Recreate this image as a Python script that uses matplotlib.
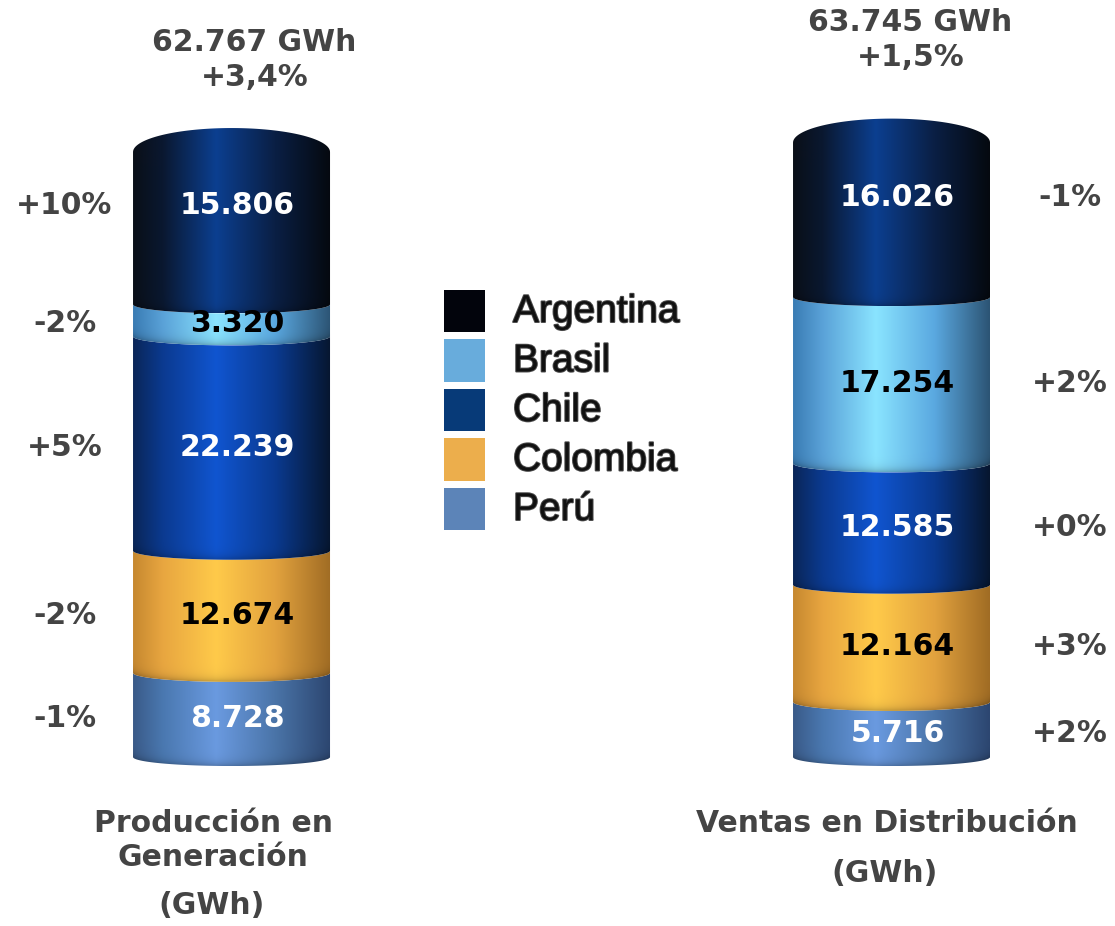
import numpy as np
import matplotlib
matplotlib.use("Agg")
import matplotlib.pyplot as plt
from matplotlib.patches import Polygon, Rectangle
from matplotlib.colors import to_rgb
import matplotlib.patheffects as pe

# ---- data -------------------------------------------------------------
countries = ["Argentina", "Brasil", "Chile", "Colombia", "Perú"]
gen_values = [15806, 3320, 22239, 12674, 8728]
gen_changes = ["+10%", "-2%", "+5%", "-2%", "-1%"]
dist_values = [16026, 17254, 12585, 12164, 5716]
dist_changes = ["-1%", "+2%", "+0%", "+3%", "+2%"]
total_changes = ["+3,4%", "+1,5%"]
column_titles = [["Producción en", "Generación", "(GWh)"],
                 ["Ventas en Distribución", "(GWh)"]]

# ---- styling ------------------------------------------------------------
# horizontal shading stops (left edge -> highlight -> right edge)
shade_pos = [0.0, 0.15, 0.42, 0.72, 1.0]
shades = {
    "Argentina": ["#0a0f18", "#0a1830", "#0c3f90", "#0a1f44", "#05090f"],
    "Brasil":    ["#3a7cb4", "#5aa2d8", "#8ae4ff", "#5aa8e0", "#2c5474"],
    "Chile":     ["#0a2658", "#0b3a90", "#1055d0", "#0a3a90", "#06162f"],
    "Colombia":  ["#c68830", "#e8a640", "#ffca4a", "#e2a23e", "#a06c24"],
    "Perú":      ["#3a5a88", "#4a78b0", "#6a9ae0", "#4a74a8", "#2c4670"],
}
legend_colors = {"Argentina": "#02040c", "Brasil": "#68acdc", "Chile": "#073a78",
                 "Colombia": "#ecae4c", "Perú": "#5c84b8"}
label_colors = {"Argentina": "white", "Brasil": "black", "Chile": "white",
                "Colombia": "black", "Perú": "white"}
gray = "#444444"

W, H, DPI = 1115, 926, 100
fig = plt.figure(figsize=(W / DPI, H / DPI), dpi=DPI)
ax = fig.add_axes([0, 0, 1, 1])
ax.set_axis_off()

# axis limits: two columns at x = 0 and x = 1, y in GWh
XMIN, XMAX = -0.3508, 1.3386
YMIN, YMAX = -17530, 78540
px_x = (XMAX - XMIN) / W          # data units per pixel, x
px_y = (YMAX - YMIN) / H          # data units per pixel, y

half_w = 98.5 * px_x
ry = 9 * px_y          # front-arc dip of segment boundaries
ry_top = 24 * px_y     # dome of the top cap


def shade_row(name, n=300):
    cols = np.array([to_rgb(c) for c in shades[name]])
    t = np.linspace(0, 1, n)
    return np.stack([np.interp(t, shade_pos, cols[:, k]) for k in range(3)], axis=-1)


def draw_segment(xc, y0, y1, name, top=False):
    theta = np.linspace(0, np.pi, 80)
    xs = xc - half_w * np.cos(theta)
    lower = y0 - ry * np.sin(theta)
    upper = y1 + ry_top * np.sin(theta) if top else y1 - ry * np.sin(theta)
    verts = np.vstack([np.column_stack([xs, lower]),
                       np.column_stack([xs[::-1], upper[::-1]])])
    clip = Polygon(verts, closed=True, facecolor="none", edgecolor="none")
    ax.add_patch(clip)

    ytop = y1 + (ry_top if top else 0)
    ybot = y0 - ry
    nrows, ncols = 240, 300
    row = shade_row(name, ncols)
    yy = np.linspace(ybot, ytop, nrows)[:, None]
    u = np.linspace(-1, 1, ncols)[None, :]
    arc = y0 - ry * np.sqrt(np.clip(1 - u ** 2, 0, 1))
    # thin darker seam along the lower rim of each band
    dist_px = np.clip((yy - arc) / px_y, 0, None)
    factor = 1 - 0.22 * np.exp(-dist_px / 4.0)
    img = np.clip(row[None, :, :] * factor[:, :, None], 0, 1)
    im = ax.imshow(img, extent=[xc - half_w, xc + half_w, ybot, ytop],
                   origin="lower", aspect="auto", interpolation="bilinear", zorder=2)
    im.set_clip_path(clip)


def fmt(v):
    return f"{v:,}".replace(",", ".")


def draw_column(xc, values, changes, pct_dx):
    # stack from the bottom: Perú, Colombia, Chile, Brasil, Argentina
    order = list(range(len(values)))[::-1]
    base = 0
    for k, i in enumerate(order):
        name = countries[i]
        v = values[i]
        is_top = (k == len(order) - 1)
        draw_segment(xc, base, base + v, name, top=is_top)
        if is_top:
            ylab = base + 0.56 * (v + ry_top)
        else:
            ylab = base + v / 2 - 0.4 * ry
        ax.text(xc + 6 * px_x, ylab, fmt(v), ha="center",
                va="center", fontsize=21.5, fontweight="bold",
                color=label_colors[name], zorder=5)
        ax.text(xc + pct_dx, ylab, changes[i], ha="center", va="center",
                fontsize=21.5, fontweight="bold", color=gray, zorder=5)
        base += v
    return base


gen_total = draw_column(0, gen_values, gen_changes, -167 * px_x)
dist_total = draw_column(1, dist_values, dist_changes, 178 * px_x)

# totals above each column
for xc, total, chg, dx, dy in [(0, gen_total, total_changes[0], 23, 75),
                               (1, dist_total, total_changes[1], 19, 85)]:
    ytxt = total + dy * px_y
    ax.text(xc + dx * px_x, ytxt + 35 * px_y, f"{fmt(total)} GWh",
            ha="center", va="center", fontsize=21.5, fontweight="bold", color=gray)
    ax.text(xc + dx * px_x, ytxt, chg, ha="center", va="center",
            fontsize=21.5, fontweight="bold", color=gray)

# column captions
def fx(px):
    return px / W


def fy(px):
    return 1 - px / H


for txt, x, y in [(column_titles[0][0], 214, 824), (column_titles[0][1], 213, 858),
                  (column_titles[0][2], 212, 906),
                  (column_titles[1][0], 887, 824), (column_titles[1][1], 885, 874)]:
    fig.text(fx(x), fy(y), txt, ha="center", va="center", fontsize=21.5,
             fontweight="bold", color=gray)

# legend
for i, name in enumerate(countries):
    top = 290 + i * 49.5
    ax.add_patch(Rectangle((fx(444), fy(top + 42)), 41 / W, 42 / H,
                           transform=ax.transAxes, facecolor=legend_colors[name],
                           edgecolor="none", zorder=3))
    ax.text(fx(513), fy(top + 22), name, transform=ax.transAxes, ha="left",
            va="center", fontsize=28, family="Liberation Sans", color="#111111",
            path_effects=[pe.withStroke(linewidth=1.4, foreground="#4a4a4a")],
            zorder=4)

ax.set_xlim(XMIN, XMAX)
ax.set_ylim(YMIN, YMAX)
fig.savefig("out.png", dpi=DPI, facecolor="white")
